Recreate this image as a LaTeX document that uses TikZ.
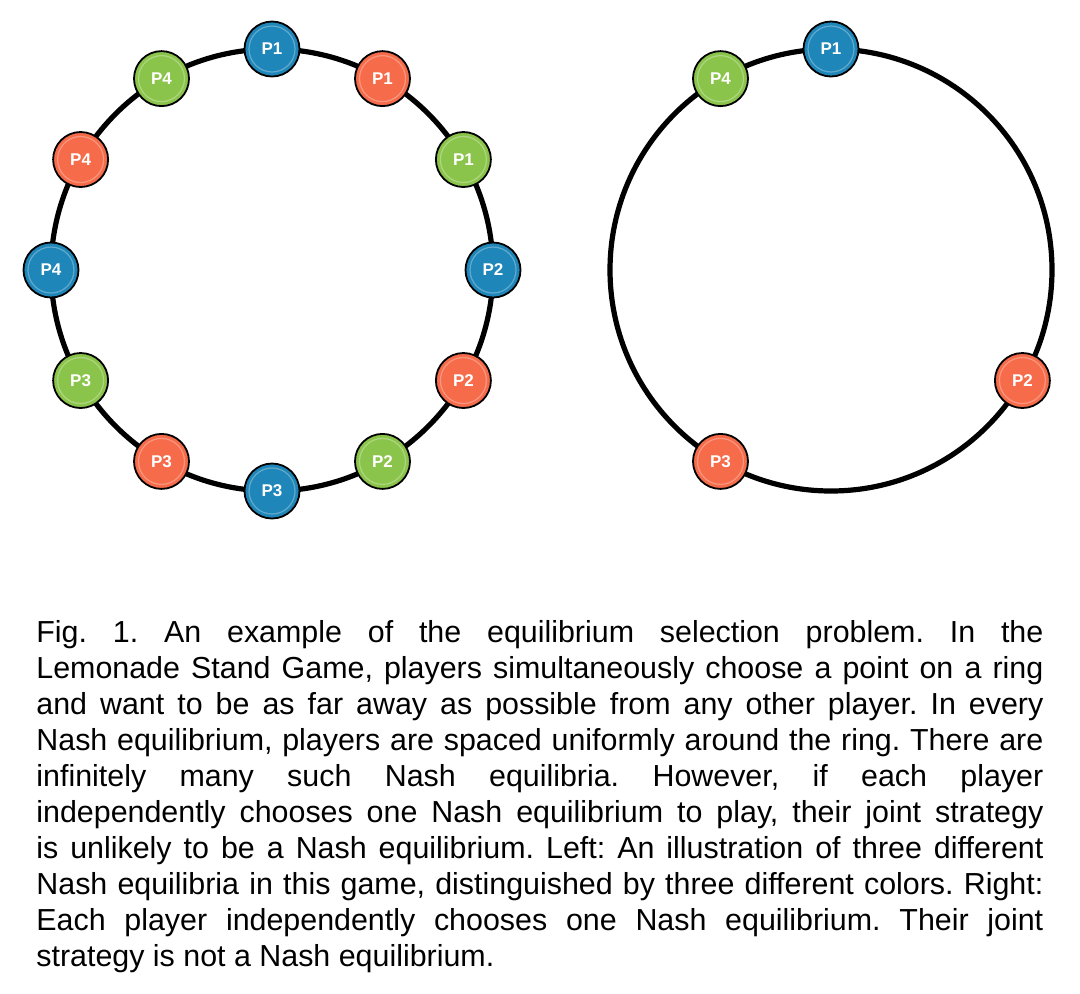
\documentclass[tikz,border=0pt]{standalone}
\usepackage{fontspec}
\setmainfont{Liberation Sans}
\definecolor{pblue}{RGB}{30,134,184}
\definecolor{porange}{RGB}{246,107,74}
\definecolor{pgreen}{RGB}{139,196,74}
\tikzset{
  ring/.style={draw=black, line width=2.6pt},
  pnode/.style={circle, draw=black, line width=0.9pt, minimum size=27.5pt, inner sep=0pt,
    text=white, font=\bfseries\fontsize{8.5}{9}\selectfont,
    path picture={\draw[white, opacity=0.3, line width=0.6pt] (path picture bounding box.center) circle (11.5pt);}},
  pb/.style={pnode, fill=pblue},
  po/.style={pnode, fill=porange},
  pg/.style={pnode, fill=pgreen},
}
\begin{document}
\begin{tikzpicture}[x=0.5pt, y=-0.5pt]
\useasboundingbox (0,0) rectangle (1080,993);
\coordinate (cL) at (272,270);
\coordinate (cR) at (831,270);
\draw[ring] (cL) circle [radius=110.5pt];
\draw[ring] (cR) circle [radius=110.5pt];
% left ring
\node[pb] (l1b) at ([shift={(cL)}]90:110.5pt) {P1};
\node[po] (l1o) at ([shift={(cL)}]60:110.5pt) {P1};
\node[pg] (l1g) at ([shift={(cL)}]30:110.5pt) {P1};
\node[pb] (l2b) at ([shift={(cL)}]0:110.5pt) {P2};
\node[po] (l2o) at ([shift={(cL)}]-30:110.5pt) {P2};
\node[pg] (l2g) at ([shift={(cL)}]-60:110.5pt) {P2};
\node[pb] (l3b) at ([shift={(cL)}]-90:110.5pt) {P3};
\node[po] (l3o) at ([shift={(cL)}]-120:110.5pt) {P3};
\node[pg] (l3g) at ([shift={(cL)}]-150:110.5pt) {P3};
\node[pb] (l4b) at ([shift={(cL)}]180:110.5pt) {P4};
\node[po] (l4o) at ([shift={(cL)}]150:110.5pt) {P4};
\node[pg] (l4g) at ([shift={(cL)}]120:110.5pt) {P4};
% right ring
\node[pb] (r1) at ([shift={(cR)}]90:110.5pt) {P1};
\node[pg] (r4) at ([shift={(cR)}]120:110.5pt) {P4};
\node[po] (r2) at ([shift={(cR)}]-30:110.5pt) {P2};
\node[po] (r3) at ([shift={(cR)}]-120:110.5pt) {P3};
% caption
\node[anchor=north west, inner sep=0pt, text width=503.5pt, align=justify,
  font=\fontsize{15.2}{18}\selectfont\frenchspacing] (cap) at (36,620) {%
Fig. 1. An example of the equilibrium selection problem. In the\linebreak
Lemonade Stand Game, players simultaneously choose a point on a ring\linebreak
and want to be as far away as possible from any other player. In every\linebreak
Nash equilibrium, players are spaced uniformly around the ring. There are\linebreak
infinitely many such Nash equilibria. However, if each player\linebreak
independently chooses one Nash equilibrium to play, their joint strategy\linebreak
is unlikely to be a Nash equilibrium. Left: An illustration of three different\linebreak
Nash equilibria in this game, distinguished by three different colors. Right:\linebreak
Each player independently chooses one Nash equilibrium. Their joint\linebreak
strategy is not a Nash equilibrium.};
\end{tikzpicture}
\end{document}
